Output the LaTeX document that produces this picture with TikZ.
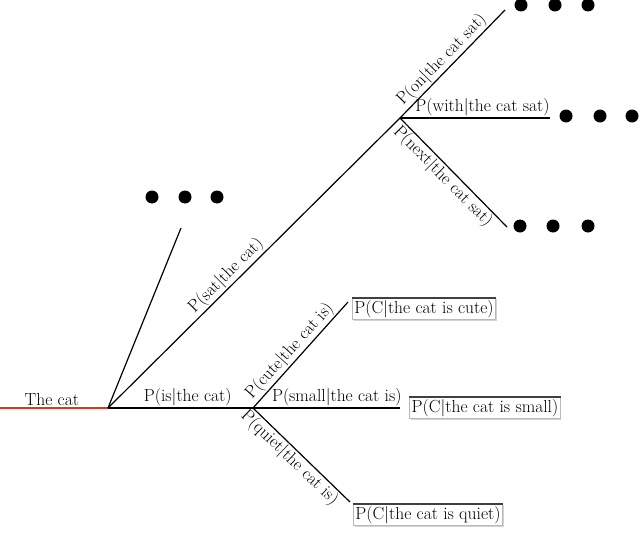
\documentclass[tikz,border=0pt]{standalone}
\usetikzlibrary{shadows}
\definecolor{rootred}{RGB}{228,52,32}
\begin{document}
\begin{tikzpicture}[x=1pt,y=-1pt,
  every node/.style={font=\fontsize{17.5}{20}\selectfont, inner sep=1.2pt},
  branch/.style={line width=1.2pt, black},
  lab/.style={sloped, pos=#1},
  probbox/.style={draw=gray!55, line width=0.6pt, fill=white, inner sep=2pt,
    drop shadow={shadow xshift=1.2pt, shadow yshift=-1.2pt, opacity=0.35}},
  dot/.style={circle, fill=black, inner sep=0pt, minimum size=13pt}
]
\useasboundingbox (0,0) rectangle (640,535);

% coordinates
\coordinate (start) at (0,408);
\coordinate (root) at (108,408);
\coordinate (other) at (181,228);
\coordinate (sat) at (400,118);
\coordinate (on) at (505,10);
\coordinate (with) at (550,118);
\coordinate (next) at (507,227);
\coordinate (is) at (253,408);
\coordinate (cute) at (348,302);
\coordinate (small) at (400,408);
\coordinate (quiet) at (350,502);

% root
\draw[line width=1.4pt, rootred] (start) -- node[above, pos=0.48, text=black] {The cat} (root);

% first level
\draw[branch] (root) -- (other);
\draw[branch] (root) -- node[lab=0.43, above] {P(sat$|$the cat)} (sat);
\draw[branch] (root) -- node[lab=0.55, above] {P(is$|$the cat)} (is);

% sat branches
\draw[branch] (sat) -- node[lab=0.47, above] {P(on$|$the cat sat)} (on);
\draw[branch] (sat) -- node[lab=0.55, above] {P(with$|$the cat sat)} (with);
\draw[branch] (sat) -- node[lab=0.47, below] {P(next$|$the cat sat)} (next);

% is branches
\draw[branch] (is) -- node[lab=0.47, above] {P(cute$|$the cat is)} (cute);
\draw[branch] (is) -- node[lab=0.57, above] {P(small$|$the cat is)} (small);
\draw[branch] (is) -- node[lab=0.45, below] {P(quiet$|$the cat is)} (quiet);

% boxes
\node[probbox] (bcute) at (424,309) {P(C$|$the cat is cute)};
\node[probbox] (bsmall) at (485,408) {P(C$|$the cat is small)};
\node[probbox] (bquiet) at (428,515) {P(C$|$the cat is quiet)};
\foreach \b in {bcute,bsmall,bquiet}
  \draw[line width=1.3pt, black!75] (\b.north west) -- (\b.north east);

% dots
\foreach \x [count=\i] in {152,185,217} \node[dot] (d0\i) at (\x,197) {};
\foreach \x [count=\i] in {521,555,588} \node[dot] (d1\i) at (\x,5) {};
\foreach \x [count=\i] in {566,600,632} \node[dot] (d2\i) at (\x,116) {};
\foreach \x [count=\i] in {520,553,588} \node[dot] (d3\i) at (\x,226) {};
\end{tikzpicture}
\end{document}
